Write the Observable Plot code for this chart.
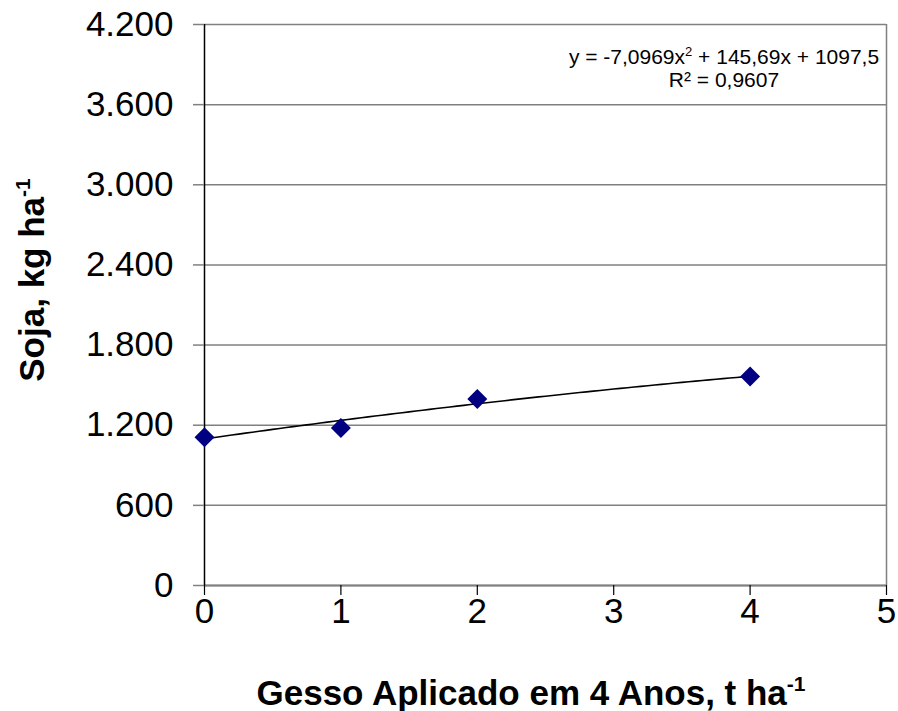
<!DOCTYPE html>
<html><head><meta charset="utf-8">
<script src="https://cdn.jsdelivr.net/npm/d3@7"></script>
<script src="https://cdn.jsdelivr.net/npm/@observablehq/plot@0.6"></script>
<style>body{margin:0;background:#fff;} svg{display:block;}</style>
</head><body><div id="chart"></div>
<script>
// Data
const gesso = [0, 1, 2, 4];
const soja = [1110, 1180, 1397, 1564];
const xTicks = [0, 1, 2, 3, 4, 5];
const yTicks = [0, 600, 1200, 1800, 2400, 3000, 3600, 4200];
const yTickLabels = ["0", "600", "1.200", "1.800", "2.400", "3.000", "3.600", "4.200"];
// Polynomial trendline coefficients shown on the chart (c0 + c1 x + c2 x^2)
const trendCoef = [1097.5, 145.69, -7.0969];
const trendRange = [0, 4];

const points = gesso.map((g, i) => ({x: g, y: soja[i]}));
const trend = d3.range(trendRange[0], trendRange[1] + 1e-9, 0.05)
  .map(x => ({x, y: trendCoef[0] + trendCoef[1] * x + trendCoef[2] * x * x}));

const W = 898, H = 711;
const chart = Plot.plot({
  width: W, height: H,
  marginLeft: 204, marginRight: 12, marginTop: 24, marginBottom: 126,
  style: {fontFamily: "'Liberation Sans', Arial, sans-serif", fontSize: "35px", color: "#000", background: "#fff"},
  x: {domain: [0, 5], ticks: xTicks},
  y: {domain: [0, 4200], ticks: yTicks},
  marks: [
    Plot.gridY(yTicks, {stroke: "#808080", strokeOpacity: 1, strokeWidth: 1.5}),
    Plot.ruleX([5], {stroke: "#808080", strokeWidth: 1.5}),
    Plot.ruleY([0], {stroke: "#808080", strokeWidth: 2}),
    Plot.ruleX([0], {stroke: "#000", strokeWidth: 1.5}),
    Plot.axisY(yTicks, {tickSize: 11, tickPadding: 20, stroke: "#808080", strokeWidth: 1.5,
      tickFormat: d => yTickLabels[yTicks.indexOf(d)], label: null, fontSize: 35}),
    Plot.axisX(xTicks, {tickSize: 10, tickPadding: 3, stroke: "#000", strokeWidth: 1.2,
      tickFormat: d => String(d), label: null, fontSize: 35}),
    Plot.line(trend, {x: "x", y: "y", stroke: "#000", strokeWidth: 1.6}),
    Plot.dot(points, {x: "x", y: "y", symbol: "diamond2", r: 9, fill: "#000080", stroke: "none"})
  ]
});
document.getElementById("chart").appendChild(chart);

const svg = d3.select(chart);
const font = "'Liberation Sans', Arial, sans-serif";
// x-axis title
const xt = svg.append("text").attr("x", 531).attr("y", 705).attr("text-anchor", "middle")
  .attr("font-family", font).attr("font-size", 35).attr("font-weight", "bold").attr("fill", "#000");
xt.append("tspan").text("Gesso Aplicado em 4 Anos, t ha");
xt.append("tspan").attr("font-size", 21).attr("dy", -14).text("-1");
// y-axis title
const yt = svg.append("text").attr("transform", "translate(44,280) rotate(-90)").attr("text-anchor", "middle")
  .attr("font-family", font).attr("font-size", 35).attr("font-weight", "bold").attr("fill", "#000");
yt.append("tspan").text("Soja, kg ha");
yt.append("tspan").attr("font-size", 21).attr("dy", -14).text("-1");
// equation
const eq = svg.append("text").attr("x", 724).attr("y", 64).attr("text-anchor", "middle")
  .attr("font-family", font).attr("font-size", 21).attr("fill", "#000");
eq.append("tspan").text("y = -7,0969x");
eq.append("tspan").attr("font-size", 13).attr("dy", -8).text("2");
eq.append("tspan").attr("dy", 8).text(" + 145,69x + 1097,5");
svg.append("text").attr("x", 724).attr("y", 87).attr("text-anchor", "middle")
  .attr("font-family", font).attr("font-size", 21).attr("fill", "#000").text("R² = 0,9607");
</script>
</body></html>
